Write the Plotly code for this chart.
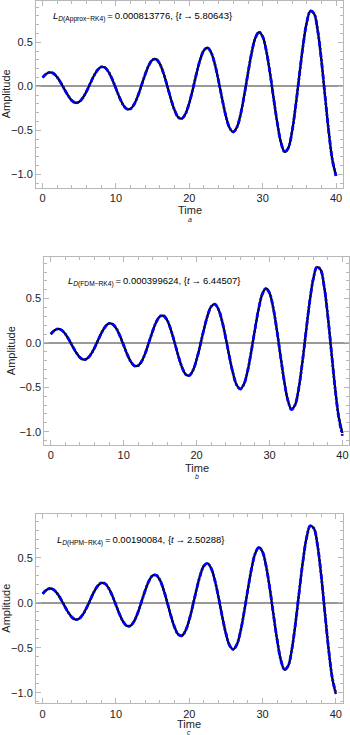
import numpy as np
import plotly.graph_objects as go

# time grid (step 0.5)
t = np.arange(0, 40.5, 0.5)

# RK4 reference solution
rk4 = [0.099, 0.141, 0.158, 0.145, 0.102, 0.037, -0.038, -0.109, -0.163, -0.187,
       -0.176, -0.129, -0.055, 0.033, 0.120, 0.186, 0.220, 0.212, 0.162, 0.078,
       -0.026, -0.130, -0.213, -0.258, -0.255, -0.202, -0.107, 0.015, 0.139, 0.242,
       0.302, 0.306, 0.251, 0.143, 0.002, -0.147, -0.273, -0.353, -0.366, -0.309,
       -0.188, -0.025, 0.152, 0.307, 0.410, 0.437, 0.379, 0.245, 0.055, -0.154,
       -0.343, -0.474, -0.519, -0.463, -0.315, -0.096, 0.151, 0.381, 0.548, 0.615,
       0.564, 0.400, 0.150, -0.142, -0.420, -0.640, -0.745, -0.700, -0.515, -0.222,
       0.124, 0.459, 0.721, 0.854, 0.826, 0.634, 0.300, -0.110, -0.510, -0.835,
       -1.015]

# approximations
approx = [0.099, 0.141, 0.158, 0.145, 0.102, 0.037, -0.038, -0.109, -0.163, -0.187,
          -0.176, -0.129, -0.055, 0.033, 0.120, 0.186, 0.220, 0.212, 0.162, 0.078,
          -0.026, -0.130, -0.213, -0.258, -0.255, -0.202, -0.107, 0.015, 0.139, 0.242,
          0.302, 0.306, 0.251, 0.143, 0.002, -0.147, -0.273, -0.353, -0.366, -0.309,
          -0.188, -0.025, 0.152, 0.307, 0.410, 0.437, 0.379, 0.245, 0.055, -0.154,
          -0.343, -0.474, -0.519, -0.463, -0.315, -0.096, 0.151, 0.381, 0.548, 0.615,
          0.564, 0.400, 0.150, -0.142, -0.420, -0.640, -0.745, -0.700, -0.515, -0.222,
          0.124, 0.459, 0.721, 0.854, 0.826, 0.634, 0.300, -0.110, -0.510, -0.835,
          -1.019]
fdm = [0.099, 0.141, 0.158, 0.145, 0.102, 0.037, -0.038, -0.109, -0.163, -0.187,
       -0.176, -0.129, -0.055, 0.033, 0.120, 0.186, 0.220, 0.212, 0.162, 0.078,
       -0.026, -0.130, -0.213, -0.258, -0.255, -0.202, -0.107, 0.015, 0.139, 0.242,
       0.302, 0.306, 0.251, 0.143, 0.002, -0.147, -0.273, -0.353, -0.366, -0.309,
       -0.188, -0.025, 0.152, 0.307, 0.410, 0.437, 0.379, 0.245, 0.055, -0.154,
       -0.343, -0.474, -0.519, -0.463, -0.315, -0.096, 0.151, 0.381, 0.548, 0.615,
       0.564, 0.400, 0.150, -0.142, -0.420, -0.640, -0.750, -0.700, -0.515, -0.222,
       0.124, 0.459, 0.721, 0.856, 0.826, 0.634, 0.300, -0.110, -0.515, -0.845,
       -1.045]
hpm = [0.099, 0.141, 0.158, 0.145, 0.102, 0.037, -0.038, -0.109, -0.163, -0.187,
       -0.176, -0.129, -0.055, 0.033, 0.120, 0.186, 0.220, 0.212, 0.162, 0.078,
       -0.026, -0.130, -0.213, -0.258, -0.255, -0.202, -0.107, 0.015, 0.139, 0.242,
       0.302, 0.306, 0.251, 0.143, 0.002, -0.147, -0.273, -0.353, -0.366, -0.309,
       -0.188, -0.025, 0.152, 0.307, 0.410, 0.437, 0.379, 0.245, 0.055, -0.154,
       -0.343, -0.474, -0.519, -0.463, -0.315, -0.096, 0.151, 0.381, 0.548, 0.615,
       0.564, 0.400, 0.150, -0.142, -0.420, -0.640, -0.745, -0.700, -0.515, -0.222,
       0.124, 0.459, 0.721, 0.854, 0.826, 0.634, 0.300, -0.110, -0.510, -0.830,
       -1.010]

labels = ["<i>L</i><sub><i>D</i>(Approx\u2212RK4)</sub>\u2009=\u20090.000813776, {<i>t</i>\u2009\u2192\u20095.80643}",
          "<i>L</i><sub><i>D</i>(FDM\u2212RK4)</sub>\u2009=\u20090.000399624, {<i>t</i>\u2009\u2192\u20096.44507}",
          "<i>L</i><sub><i>D</i>(HPM\u2212RK4)</sub>\u2009=\u20090.00190084, {<i>t</i>\u2009\u2192\u20092.50288}"]
letters = ["a", "b", "c"]

W, H = 350, 735
# pannelli in pixel: (sinistra, destra, alto, basso)
boxes = [(36, 343, 0.5, 188), (44.3, 349, 257.3, 445), (36, 342.7, 514, 703.3)]
xranges = [[-0.9, 40.95], [-0.88, 40.9], [-0.91, 40.93]]
yranges = [[-1.155, 0.974], [-1.15, 0.966], [-1.118, 0.986]]
label_pos = [(50.7, 16), (65.7, 281.5), (55, 540)]
ytitle_x = [6, 11, 6]
time_y = [210, 467.5, 723.5]
letter_y = [219, 476, 732]

FONT = "Liberation Sans, Arial, sans-serif"
FRAME = "#b8b8b8"

fig = go.Figure()
series = [approx, fdm, hpm]
annotations = []
for i in range(3):
    xa = "x" if i == 0 else f"x{i + 1}"
    ya = "y" if i == 0 else f"y{i + 1}"
    # soluzione RK4 nera
    fig.add_trace(go.Scatter(x=t, y=rk4, mode="lines", xaxis=xa, yaxis=ya,
                             line=dict(color="black", width=2.3, shape="spline"),
                             showlegend=False, hoverinfo="skip"))
    # approssimazione blu tratto-punto
    fig.add_trace(go.Scatter(x=t, y=series[i], mode="lines", xaxis=xa, yaxis=ya,
                             line=dict(color="#0000ff", width=2.8, shape="spline",
                                       dash="5px,2px,2px,2px"),
                             showlegend=False, hoverinfo="skip"))

    l, r, top, bot = boxes[i]
    common = dict(showline=True, linecolor=FRAME, linewidth=1, mirror="ticks",
                  ticks="inside", ticklen=5, tickcolor=FRAME, tickwidth=1,
                  showgrid=False, automargin=False,
                  tickfont=dict(family=FONT, size=11, color="#222"),
                  fixedrange=True)
    xaxis = dict(common, domain=[l / W, r / W], range=xranges[i], anchor=ya,
                 tickvals=[0, 10, 20, 30, 40], zeroline=False,
                 minor=dict(dtick=2, ticks="inside", ticklen=3, tickcolor=FRAME))
    yaxis = dict(common, domain=[1 - bot / H, 1 - top / H], range=yranges[i], anchor=xa,
                 tickvals=[-1.0, -0.5, 0.0, 0.5], tickformat=".1f",
                 zeroline=True, zerolinecolor="#999999", zerolinewidth=1.5,
                 minor=dict(dtick=0.1, ticks="inside", ticklen=3, tickcolor=FRAME))
    key = "" if i == 0 else str(i + 1)
    fig.update_layout({f"xaxis{key}": xaxis, f"yaxis{key}": yaxis})

    lx, ly = label_pos[i]
    annotations.append(dict(text=labels[i], x=lx / W, y=1 - ly / H, xref="paper", yref="paper",
                            xanchor="left", yanchor="middle", showarrow=False,
                            font=dict(family=FONT, size=9.5, color="black")))
    annotations.append(dict(text="Amplitude", x=ytitle_x[i] / W, y=1 - (top + bot) / 2 / H,
                            xref="paper", yref="paper", textangle=-90, showarrow=False,
                            xanchor="center", yanchor="middle",
                            font=dict(family=FONT, size=11, color="#222")))
    annotations.append(dict(text="Time", x=(l + r) / 2 / W, y=1 - time_y[i] / H,
                            xref="paper", yref="paper", showarrow=False,
                            xanchor="center", yanchor="middle",
                            font=dict(family=FONT, size=11, color="#222")))
    annotations.append(dict(text=f"<i>{letters[i]}</i>", x=(l + r) / 2 / W,
                            y=1 - letter_y[i] / H,
                            xref="paper", yref="paper", showarrow=False,
                            xanchor="center", yanchor="middle",
                            font=dict(family=FONT, size=7, color="#222")))

fig.update_layout(width=W, height=H, autosize=False,
                  margin=dict(l=0, r=0, t=0, b=0),
                  paper_bgcolor="white", plot_bgcolor="white",
                  annotations=annotations)

# niente margine della pagina, niente barra strumenti
fig.write_html("out.html", config={"displayModeBar": False},
               post_script="document.body.style.margin='0';")
